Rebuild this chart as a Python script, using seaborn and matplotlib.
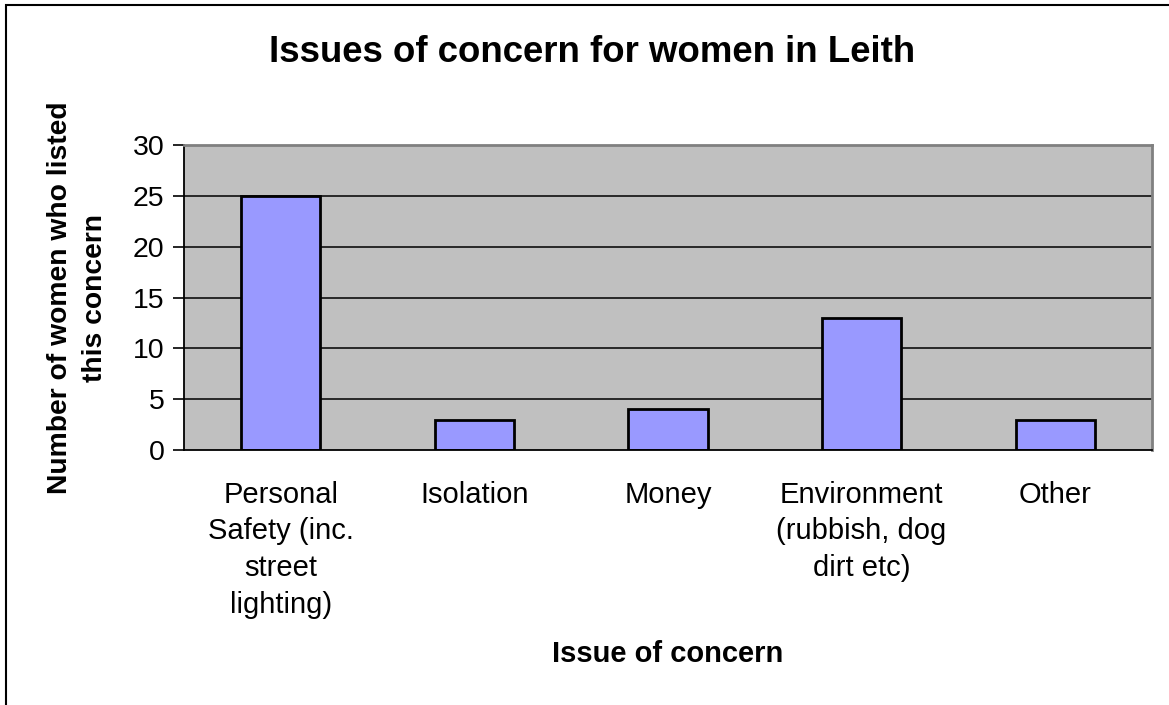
import matplotlib
matplotlib.use("Agg")
import matplotlib.pyplot as plt
import matplotlib.patches as mpatches
import seaborn as sns
import pandas as pd
import numpy as np

categories = [
    "Personal\nSafety (inc.\nstreet\nlighting)",
    "Isolation",
    "Money",
    "Environment\n(rubbish, dog\ndirt etc)",
    "Other",
]
counts = [25, 3, 4, 13, 3]
y_ticks = [0, 5, 10, 15, 20, 25, 30]

df = pd.DataFrame({"issue": categories, "count": counts})

sns.set_theme(style="white")
plt.rcParams["font.family"] = ["Liberation Sans", "DejaVu Sans"]
plt.rcParams.update({
    "text.color": "black",
    "axes.labelcolor": "black",
    "xtick.color": "black",
    "ytick.color": "black",
})

fig = plt.figure(figsize=(11.69, 7.05), dpi=100)
ax = fig.add_axes([184 / 1169, 1 - 450 / 705, (1152 - 184) / 1169, (450 - 145) / 705])

ax.set_facecolor("#C0C0C0")
sns.barplot(data=df, x="issue", y="count", color="#9999FF", width=0.41,
            edgecolor="black", linewidth=2, saturation=1, ax=ax, zorder=3)

ax.set_ylim(0, 30)
ax.set_xlim(-0.5, len(categories) - 0.5)
ax.set_yticks(y_ticks)
ax.set_yticklabels([str(v) for v in y_ticks], fontsize=20.5)
for v in y_ticks[1:-1]:
    ax.axhline(v, color="black", linewidth=1.1, zorder=1)

# category labels centred under bars, tick marks between categories
ax.set_xticks(range(len(categories)))
ax.set_xticklabels(categories, fontsize=21, linespacing=1.4, va="top")
ax.tick_params(axis="x", length=0, pad=22)
ax.set_xticks(np.arange(-0.5, len(categories) + 0.5, 1), minor=True)
ax.tick_params(axis="x", which="minor", length=8, width=1.2, color="black", direction="out")
ax.tick_params(axis="y", length=8, width=1.2, color="black", direction="out", pad=6,
               left=True)

for side in ("left", "bottom"):
    ax.spines[side].set_color("black")
    ax.spines[side].set_linewidth(1.3)
for side in ("top", "right"):
    ax.spines[side].set_color("#808080")
    ax.spines[side].set_linewidth(2)
for s in ax.spines.values():
    s.set_zorder(4)

ax.set_xlabel("Issue of concern", fontsize=21, fontweight="bold", labelpad=15)
ax.set_ylabel("Number of women who listed\nthis concern", fontsize=20.3,
              fontweight="bold", labelpad=18, linespacing=1.42)

fig.text(592 / 1169, 1 - 52 / 705, "Issues of concern for women in Leith",
         fontsize=26.4, fontweight="bold", ha="center", va="center")

# chart frame
fig.patches.append(mpatches.Rectangle((6 / 1169, -0.01), 1.1, 1 - 5 / 705 + 0.01,
                                      transform=fig.transFigure, fill=False,
                                      edgecolor="black", linewidth=1.5))

fig.savefig("out.png", dpi=100)
